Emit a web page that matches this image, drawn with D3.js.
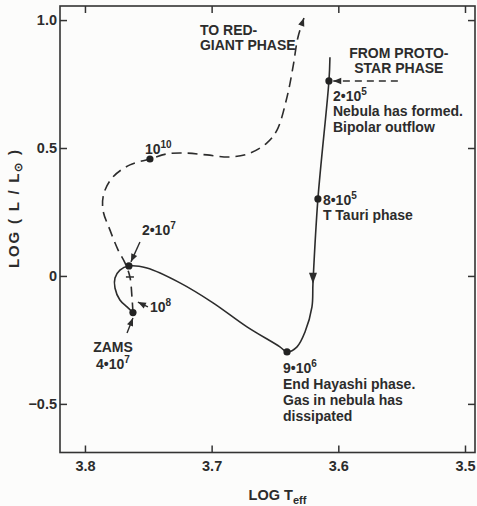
<!DOCTYPE html>
<meta charset="utf-8">
<div id="area"></div>

<script src="https://d3js.org/d3.v7.min.js"></script>

<style>
  body {
    background: #fcfcfb;
    margin: 0;
  }
  svg {
    display: block;
    font-family: "Liberation Sans", Arial, sans-serif;
    font-weight: bold;
  }
  .axis line { stroke: #333; stroke-width: 1.5; }
  .axis text { font-size: 14.5px; fill: #2c2c2c; font-family: "Liberation Sans", Arial, sans-serif; font-weight: bold; }
  .note { font-size: 14px; fill: #2c2c2c; }
</style>

<script>
// axis ticks
var xTicks = [3.8, 3.7, 3.6, 3.5];
var yTicks = [-0.5, 0, 0.5, 1.0];

// [log Teff, log L/Lsun]
// pre-main-sequence: protostar -> Hayashi -> Henyey -> ZAMS
var preMainTrack = [
  [3.6066, 0.855], [3.6074, 0.762], [3.6161, 0.301], [3.6200, -0.027],
  [3.6208, -0.121], [3.6263, -0.219], [3.6326, -0.277], [3.6405, -0.297],
  [3.6461, -0.277], [3.6721, -0.199], [3.6989, -0.105], [3.7250, -0.027],
  [3.7511, 0.031], [3.7653, 0.039], [3.7724, 0.023], [3.7763, -0.008],
  [3.7763, -0.047], [3.7724, -0.094], [3.7668, -0.121], [3.7621, -0.143]
];
// ZAMS -> red giant (dashed)
var postMainTrack = [
  [3.7621, -0.143], [3.7629, -0.082], [3.7645, -0.004], [3.7684, 0.051],
  [3.7739, 0.102], [3.7803, 0.180], [3.7858, 0.258], [3.7850, 0.324],
  [3.7779, 0.387], [3.7645, 0.434], [3.7487, 0.457], [3.7353, 0.477],
  [3.7195, 0.480], [3.7037, 0.473], [3.6855, 0.465], [3.6697, 0.480],
  [3.6563, 0.520], [3.6484, 0.570], [3.6405, 0.699], [3.6358, 0.816],
  [3.6318, 0.934], [3.6271, 1.008]
];
// dated points (years): 2e5, 8e5, 9e6, 2e7, 4e7 (ZAMS), 1e10
var agePoints = [
  [3.6074, 0.762], [3.6161, 0.301], [3.6405, -0.297],
  [3.7653, 0.039], [3.7621, -0.143], [3.7487, 0.457]
];
var ageMark1e8 = [3.7582, -0.102];
var crossMark = [3.7645, -0.004];
var descentArrow = [3.6200, -0.027];
var protostarArrow = [[3.553, 0.762], [3.604, 0.762]];

var width = 477, height = 506;

var svg = d3.select("#area")
  .append("svg")
    .attr("width", width)
    .attr("height", height);

var x = d3.scaleLinear().domain([3.8197, 3.4921]).range([60, 475]);
var y = d3.scaleLinear().domain([-0.69, 1.055]).range([452.5, 6]);

var defs = svg.append("defs");
defs.append("marker")
    .attr("id", "head")
    .attr("viewBox", "0 -5 10 10")
    .attr("refX", 10)
    .attr("refY", 0)
    .attr("markerUnits", "userSpaceOnUse")
    .attr("markerWidth", 9)
    .attr("markerHeight", 8)
    .attr("orient", "auto")
  .append("path")
    .attr("d", "M0,-4L10,0L0,4Z")
    .attr("fill", "#2c2c2c");

// frame + inward ticks
svg.append("g").attr("class", "axis")
  .attr("transform", "translate(0," + y.range()[0] + ")")
  .call(d3.axisBottom(x).tickValues(xTicks).tickSize(-7).tickPadding(8).tickFormat(d3.format(".1f")))
  .call(function(g) { g.select(".domain").remove(); });
svg.append("g").attr("class", "axis")
  .attr("transform", "translate(0," + y.range()[1] + ")")
  .call(d3.axisTop(x).tickValues(xTicks).tickSize(-7).tickFormat(""))
  .call(function(g) { g.select(".domain").remove(); });
svg.append("g").attr("class", "axis")
  .attr("transform", "translate(" + x.range()[0] + ",0)")
  .call(d3.axisLeft(y).tickValues(yTicks).tickSize(-7).tickPadding(3)
    .tickFormat(function(d) { return d === 0 ? "0" : d3.format(".1f")(d); }))
  .call(function(g) { g.select(".domain").remove(); });
svg.append("g").attr("class", "axis")
  .attr("transform", "translate(" + x.range()[1] + ",0)")
  .call(d3.axisRight(y).tickValues(yTicks).tickSize(-7).tickFormat(""))
  .call(function(g) { g.select(".domain").remove(); });

svg.append("rect")
  .attr("x", x.range()[0])
  .attr("y", y.range()[1])
  .attr("width", x.range()[1] - x.range()[0])
  .attr("height", y.range()[0] - y.range()[1])
  .attr("fill", "none")
  .attr("stroke", "#333")
  .attr("stroke-width", 1.6);

// axis titles
var xt = svg.append("text")
  .attr("x", (x.range()[0] + x.range()[1]) / 2 + 10)
  .attr("y", 500)
  .attr("text-anchor", "middle")
  .attr("fill", "#2c2c2c")
  .style("font-size", "14.5px");
xt.append("tspan").text("LOG T");
xt.append("tspan").attr("dy", 4).style("font-size", "11px").text("eff");

var yt = svg.append("text")
  .attr("transform", "translate(19,208) rotate(-90)")
  .attr("text-anchor", "middle")
  .attr("fill", "#2c2c2c")
  .style("font-size", "15px")
  .style("letter-spacing", "1.8px");
yt.append("tspan").text("LOG ( L / L");
yt.append("tspan").attr("dy", 3).style("font-size", "11px").text("\u2299");
yt.append("tspan").attr("dy", -3).text(" )");

// tracks
var line = d3.line()
  .x(function(d) { return x(d[0]); })
  .y(function(d) { return y(d[1]); })
  .curve(d3.curveCatmullRom.alpha(0.5));

svg.append("path")
  .datum(preMainTrack)
  .attr("d", line)
  .attr("fill", "none")
  .attr("stroke", "#2c2c2c")
  .attr("stroke-width", 1.6);

svg.append("path")
  .datum(postMainTrack)
  .attr("d", line)
  .attr("fill", "none")
  .attr("stroke", "#2c2c2c")
  .attr("stroke-width", 1.6)
  .attr("stroke-dasharray", "10,6")
  .attr("marker-end", "url(#head)");

// arrow on the Hayashi descent
svg.append("path")
  .attr("d", "M-4,-10L4,-10L0,1Z")
  .attr("transform", "translate(" + x(descentArrow[0]) + "," + y(descentArrow[1]) + ")")
  .attr("fill", "#2c2c2c");

// small cross on dashed track
svg.append("line")
  .attr("x1", x(crossMark[0]) - 4).attr("x2", x(crossMark[0]) + 4)
  .attr("y1", y(crossMark[1])).attr("y2", y(crossMark[1]))
  .attr("stroke", "#2c2c2c").attr("stroke-width", 1.5);

// from protostar phase
svg.append("line")
  .attr("x1", x(protostarArrow[0][0])).attr("y1", y(protostarArrow[0][1]))
  .attr("x2", x(protostarArrow[1][0])).attr("y2", y(protostarArrow[1][1]))
  .attr("stroke", "#2c2c2c").attr("stroke-width", 1.6)
  .attr("stroke-dasharray", "7,5")
  .attr("marker-end", "url(#head)");

// dots
svg.append("g")
  .selectAll("circle")
  .data(agePoints)
  .enter()
  .append("circle")
    .attr("cx", function(d) { return x(d[0]); })
    .attr("cy", function(d) { return y(d[1]); })
    .attr("r", 3.6)
    .attr("fill", "#222");

// pointer arrows
var pointers = [
  [[3.7566, 0.133], [3.7637, 0.055]],
  [[3.7668, -0.223], [3.7621, -0.164]],
  [[3.7503, -0.121], ageMark1e8]
];
svg.append("g")
  .selectAll("line")
  .data(pointers)
  .enter()
  .append("line")
    .attr("x1", function(d) { return x(d[0][0]); })
    .attr("y1", function(d) { return y(d[0][1]); })
    .attr("x2", function(d) { return x(d[1][0]); })
    .attr("y2", function(d) { return y(d[1][1]); })
    .attr("stroke", "#2c2c2c")
    .attr("stroke-width", 1.4)
    .attr("marker-end", "url(#head)");

// labels: lines are strings or [base, superscript]
function note(at, dx, dy, lines, anchor, lh) {
  var t = svg.append("text")
    .attr("class", "note")
    .attr("text-anchor", anchor || "start");
  lines.forEach(function(ln, i) {
    var ty = y(at[1]) + dy + i * (lh || 16);
    var tx = x(at[0]) + dx;
    if (typeof ln === "string") {
      t.append("tspan").attr("x", tx).attr("y", ty).text(ln);
    } else {
      t.append("tspan").attr("x", tx).attr("y", ty).text(ln[0]);
      t.append("tspan").attr("dy", -6).style("font-size", "10px").text(ln[1]);
    }
  });
}

var endDash = postMainTrack[postMainTrack.length - 1];
note(endDash, -104, 17, ["TO RED-", "GIANT PHASE"], "start", 15);
note(protostarArrow[0], 1, -23, ["FROM PROTO-", "STAR PHASE"], "middle", 15);
note(agePoints[0], 4, 20, [["2\u202210", "5"], "Nebula has formed.", "Bipolar outflow"], "start", 15.5);
note(agePoints[1], 5, 6, [["8\u202210", "5"], "T Tauri phase"], "start", 15.5);
note(agePoints[2], -4, 21, [["9\u202210", "6"], "End Hayashi phase.", "Gas in nebula has", "dissipated"], "start", 16);
note(agePoints[3], 13, -31, [["2\u202210", "7"]]);
note(agePoints[4], -20, 39, ["ZAMS", ["4\u202210", "7"]], "middle", 17);
note(agePoints[5], -5, -5, [["10", "10"]]);
note(ageMark1e8, 12, 10, [["10", "8"]]);
</script>
